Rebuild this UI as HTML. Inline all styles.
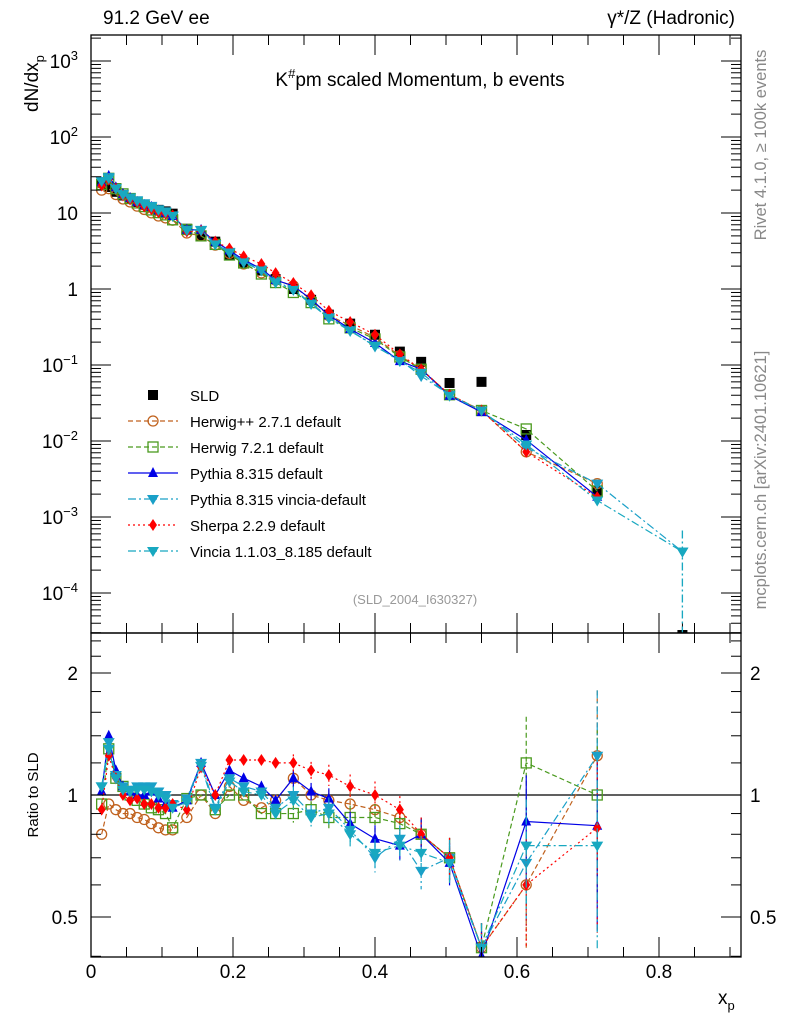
<!DOCTYPE html>
<html><head><meta charset="utf-8"><style>
body{margin:0;background:#fff}
svg{display:block;font-family:"Liberation Sans","DejaVu Sans",sans-serif}
</style></head><body>
<svg id="c" width="786" height="1024" xmlns="http://www.w3.org/2000/svg"></svg>
<script>
const xBins=[0.015,0.025,0.035,0.045,0.055,0.065,0.075,0.085,0.095,0.105,0.115,0.135,0.155,0.175,0.195,0.215,0.24,0.26,0.285,0.31,0.335,0.365,0.40,0.435,0.465,0.505,0.55,0.613,0.713,0.833];
const sldVals=[25,22,19,17,15.5,14,12.8,11.8,11,10.5,9.8,6.2,5.0,4.2,2.8,2.2,1.75,1.35,1.0,0.72,0.46,0.35,0.25,0.15,0.11,0.058,0.060,0.012,0.0022,0.000028];
const herwigppRatio=[0.8,0.95,0.92,0.9,0.9,0.88,0.87,0.85,0.83,0.82,0.82,0.88,1.0,0.9,1.05,0.97,0.93,0.97,1.1,1.0,0.97,0.95,0.92,0.88,0.8,0.7,0.42,0.6,1.25,null];
const herwig7Ratio=[0.95,1.3,1.1,1.05,1.0,0.97,0.95,0.93,0.92,0.9,0.83,0.98,1.0,0.92,1.0,1.0,0.9,0.9,0.9,0.92,0.88,0.88,0.88,0.85,0.8,0.7,0.42,1.2,1.0,null];
const pythiaRatio=[1.02,1.4,1.15,1.05,1.02,1.0,1.0,1.02,0.98,0.95,0.93,0.97,1.2,1.0,1.15,1.1,1.05,0.97,1.1,1.02,0.98,0.85,0.78,0.75,0.8,0.68,0.4,0.86,0.84,null];
const pyVinciaRatio=[1.05,1.35,1.12,1.05,1.03,1.05,1.05,1.05,1.02,1.0,0.95,0.98,1.2,0.93,1.1,1.05,1.02,0.93,1.0,0.9,0.93,0.82,0.7,0.78,0.65,0.7,0.42,0.68,1.25,null];
const sherpaRatio=[0.92,1.25,1.1,1.0,0.97,0.98,0.95,0.95,0.93,0.93,0.95,0.92,1.17,1.0,1.22,1.22,1.22,1.2,1.2,1.15,1.12,1.05,1.0,0.92,0.8,0.7,0.42,0.6,0.83,null];
const vinciaRatio=[1.05,1.3,1.1,1.03,1.02,1.03,1.03,1.02,1.0,0.98,0.93,0.96,1.18,0.92,1.08,1.02,1.0,0.9,0.97,0.88,0.9,0.8,0.72,0.75,0.72,0.68,0.42,0.75,0.75,null];
const vinciaTail=[0.833,0.00035];
const relErr=[0.02,0.02,0.02,0.02,0.02,0.02,0.02,0.02,0.02,0.02,0.02,0.03,0.03,0.03,0.03,0.03,0.04,0.04,0.05,0.05,0.06,0.07,0.08,0.08,0.1,0.12,0.15,0.3,0.45,0.9];
const yTicksMain=[3,2,1,0,-1,-2,-3,-4];
const xTicks=[0,0.2,0.4,0.6,0.8];
const ratioTicks=[0.5,1,2];

const NS="http://www.w3.org/2000/svg",svg=document.getElementById('c');
function el(t,a,p){const e=document.createElementNS(NS,t);for(const k in a)e.setAttribute(k,a[k]);(p||svg).appendChild(e);return e;}
const L=91,R=741,MT=35,MB=633,RB=957;
const X=x=>L+x*710;
const Y=v=>289-Math.log10(v)*76;
const YR=r=>795-Math.log2(r)*122;
const defs=el('defs',{});
const c1=el('clipPath',{id:'cm'},defs);el('rect',{x:L,y:MT,width:R-L,height:MB-MT},c1);
const c2=el('clipPath',{id:'cr'},defs);el('rect',{x:L,y:MB,width:R-L,height:RB-MB},c2);
const gm=el('g',{'clip-path':'url(#cm)'});
const gr=el('g',{'clip-path':'url(#cr)'});

const series=[
 {name:'herwigpp',r:herwigppRatio,col:'#c0621e',dash:'5,3',m:'circle'},
 {name:'herwig7',r:herwig7Ratio,col:'#4a9a1e',dash:'5,3',m:'square'},
 {name:'pythia',r:pythiaRatio,col:'#0000e6',dash:'',m:'up'},
 {name:'pythia-vincia',r:pyVinciaRatio,col:'#1aa0c8',dash:'8,3,2,3',m:'down'},
 {name:'sherpa',r:sherpaRatio,col:'#ff0000',dash:'2,3',m:'diamond'},
 {name:'vincia',r:vinciaRatio,col:'#18a8c0',dash:'8,3,2,3',m:'down'}
];
function marker(g,type,x,y,col,s){
 s=s||5;let e;
 if(type==='circle')e=el('circle',{cx:x,cy:y,r:s,fill:'none',stroke:col,'stroke-width':1.3},g);
 else if(type==='square')e=el('rect',{x:x-s,y:y-s,width:2*s,height:2*s,fill:'none',stroke:col,'stroke-width':1.3},g);
 else if(type==='sqfill')e=el('rect',{x:x-s,y:y-s,width:2*s,height:2*s,fill:col},g);
 else if(type==='up')e=el('polygon',{points:`${x},${y-s-1} ${x-s},${y+s-1} ${x+s},${y+s-1}`,fill:col},g);
 else if(type==='down')e=el('polygon',{points:`${x},${y+s+1} ${x-s-1},${y-s+1} ${x+s+1},${y-s+1}`,fill:col},g);
 else e=el('polygon',{points:`${x},${y-s-1} ${x-s+1},${y} ${x},${y+s+1} ${x+s-1},${y}`,fill:col},g);
 return e;
}
xBins.forEach((x,i)=>{
 const v=sldVals[i],e=relErr[i]*0.5;
 el('line',{x1:X(x),x2:X(x),y1:Y(v*(1+e)),y2:Y(v*(1-e)),stroke:'#000'},gm);
 const m=marker(gm,'sqfill',X(x),Y(v),'#000',5);
 
});
const rl=el('line',{x1:L,x2:R,y1:YR(1),y2:YR(1),stroke:'#000','stroke-width':1.2},gr);

series.forEach(s=>{
 const gs=el('g',{},gm);
 const gs2=el('g',{},gr);
 let pm=[],pr=[];
 xBins.forEach((x,i)=>{const r=s.r[i];if(r==null)return;pm.push([X(x),Y(r*sldVals[i])]);pr.push([X(x),YR(r)]);});
 if(s.name.indexOf('vincia')>=0){pm.push([X(vinciaTail[0]),Y(vinciaTail[1])]);}
 el('polyline',{points:pm.map(p=>p.join(',')).join(' '),fill:'none',stroke:s.col,'stroke-width':1.2,'stroke-dasharray':s.dash},gs);
 el('polyline',{points:pr.map(p=>p.join(',')).join(' '),fill:'none',stroke:s.col,'stroke-width':1.2,'stroke-dasharray':s.dash},gs2);
 xBins.forEach((x,i)=>{const r=s.r[i];if(r==null)return;
  const e=relErr[i];
  if(e>0.04){el('line',{x1:X(x),x2:X(x),y1:YR(r*(1+e)),y2:YR(Math.max(r*(1-e),0.05)),stroke:s.col,'stroke-width':1.2,'stroke-dasharray':s.dash},gs2);}
  const m1=marker(gs,s.m,X(x),Y(r*sldVals[i]),s.col,5);
  const m2=marker(gs2,s.m,X(x),YR(r),s.col,5);
 });
 if(s.name.indexOf('vincia')>=0){
  el('line',{x1:X(vinciaTail[0]),x2:X(vinciaTail[0]),y1:Y(vinciaTail[1]*1.9),y2:MB,stroke:s.col,'stroke-width':1.2,'stroke-dasharray':s.dash},gs);
  marker(gs,'down',X(vinciaTail[0]),Y(vinciaTail[1]),s.col,5);
 }
});
const f1=el('rect',{x:L,y:MT,width:R-L,height:MB-MT,fill:'none',stroke:'#000','stroke-width':1.3});

const f2=el('rect',{x:L,y:MB,width:R-L,height:RB-MB,fill:'none',stroke:'#000','stroke-width':1.3});

function txt(s,a,name){const t=el('text',a);t.textContent=s;return t;}
for(let d=-5;d<=3;d++){for(let k=1;k<10;k++){const v=k*Math.pow(10,d),y=Y(v);if(y<MT||y>MB)continue;const len=k===1?20:10;
 el('line',{x1:L,x2:L+len,y1:y,y2:y,stroke:'#000'});el('line',{x1:R,x2:R-len,y1:y,y2:y,stroke:'#000'});}}
yTicksMain.forEach(d=>{const y=Y(Math.pow(10,d));let t;
 if(d===1)t=txt('10',{x:78,y:y+7,'text-anchor':'end','font-size':19},'y-tick-label');
 else if(d===0)t=txt('1',{x:78,y:y+7,'text-anchor':'end','font-size':19},'y-tick-label');
 else{t=el('text',{x:78,y:y+7,'text-anchor':'end','font-size':19});
  t.innerHTML='10<tspan dy="-8" font-size="13">'+(d<0?'\u2212'+(-d):d)+'</tspan>';}
});
const rminor=[0.4,0.5,0.6,0.7,0.8,0.9,1,1.2,1.4,1.6,1.8,2,2.2,2.4];
rminor.forEach(r=>{const y=YR(r);const len=ratioTicks.includes(r)?20:10;
 el('line',{x1:L,x2:L+len,y1:y,y2:y,stroke:'#000'});el('line',{x1:R,x2:R-len,y1:y,y2:y,stroke:'#000'});});
ratioTicks.forEach(r=>{txt(String(r),{x:78,y:YR(r)+7,'text-anchor':'end','font-size':19},'ratio-tick-label');
 txt(String(r),{x:750,y:YR(r)+7,'font-size':19},'ratio-tick-label-right');});
for(let i=0;i<=18;i++){const x=i*0.05;const px=X(x);if(px>R)break;const len=i%4===0?20:10;
 [MT,MB].forEach(y0=>el('line',{x1:px,x2:px,y1:y0,y2:y0+len,stroke:'#000'}));
 [MB,RB].forEach(y0=>el('line',{x1:px,x2:px,y1:y0,y2:y0-len,stroke:'#000'}));}
xTicks.forEach(x=>txt(String(x),{x:X(x),y:978,'text-anchor':'middle','font-size':19},'x-tick-label'));
txt('91.2 GeV ee',{x:103,y:24,'font-size':19},'energy-label');
txt('\u03b3*/Z (Hadronic)',{x:735,y:24,'text-anchor':'end','font-size':19},'process-label');
const tt=el('text',{x:420,y:86,'text-anchor':'middle','font-size':19});
tt.innerHTML='K<tspan dy="-8" font-size="13">#</tspan><tspan dy="8">pm scaled Momentum, b events</tspan>';
const yl=el('text',{transform:'translate(38,112) rotate(-90)','font-size':19});
yl.innerHTML='dN/dx<tspan dy="6" font-size="13">p</tspan>';
txt('Ratio to SLD',{transform:'translate(38,795) rotate(-90)','text-anchor':'middle','font-size':15},'ratio-axis-title');
const xl=el('text',{x:718,y:1004,'font-size':19});
xl.innerHTML='x<tspan dy="6" font-size="13">p</tspan>';
txt('Rivet 4.1.0, \u2265 100k events',{transform:'translate(766,145) rotate(-90)','text-anchor':'middle','font-size':16.5,fill:'#888'},'rivet-label');
txt('mcplots.cern.ch [arXiv:2401.10621]',{transform:'translate(766,480) rotate(-90)','text-anchor':'middle','font-size':16.5,fill:'#888'},'mcplots-label');
txt('(SLD_2004_I630327)',{x:415,y:604,'text-anchor':'middle','font-size':13,fill:'#999'},'analysis-id');
const leg=[['SLD','#000','','sqfill'],['Herwig++ 2.7.1 default','#c0621e','5,3','circle'],['Herwig 7.2.1 default','#4a9a1e','5,3','square'],
['Pythia 8.315 default','#0000e6','','up'],['Pythia 8.315 vincia-default','#1aa0c8','8,3,2,3','down'],['Sherpa 2.2.9 default','#ff0000','2,3','diamond'],['Vincia 1.1.03_8.185 default','#18a8c0','8,3,2,3','down']];
leg.forEach((l,i)=>{const y=395+i*26;const g=el('g',{});
 if(i>0)el('line',{x1:128,x2:178,y1:y,y2:y,stroke:l[1],'stroke-width':1.2,'stroke-dasharray':l[2]},g);
 marker(g,l[3],153,y,l[1],5);
 const t=el('text',{x:190,y:y+6,'font-size':15},g);t.textContent=l[0];});
</script>
</body></html>
